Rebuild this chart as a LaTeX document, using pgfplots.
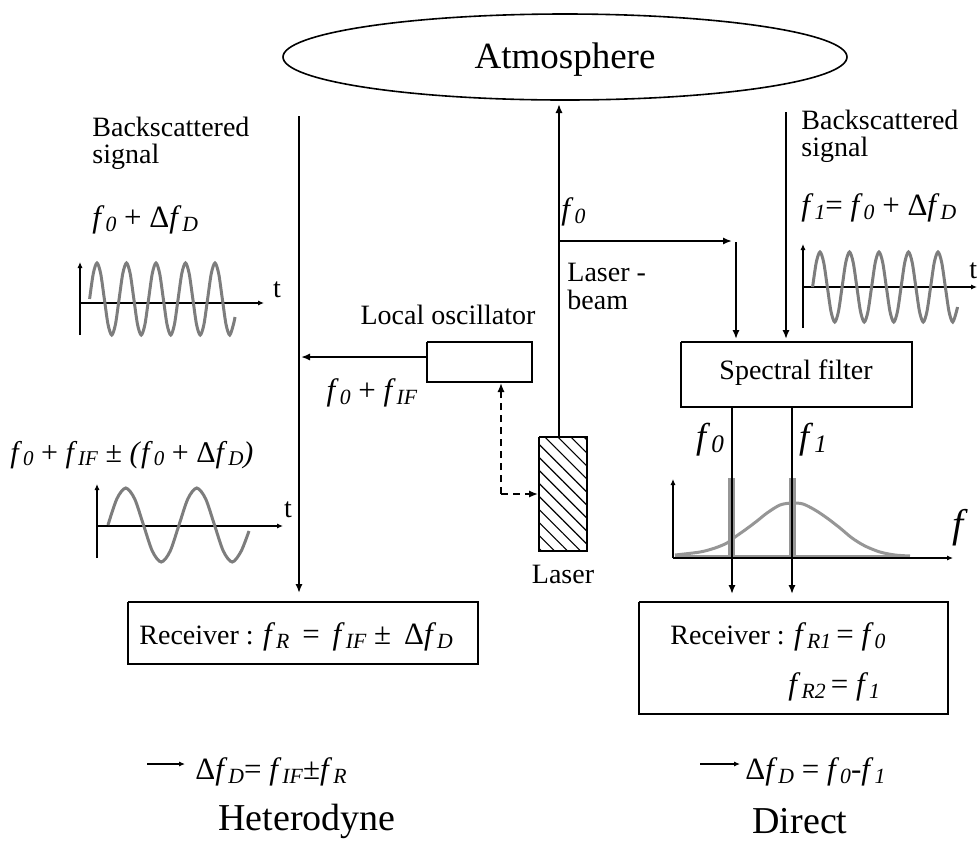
\documentclass[border=0pt]{standalone}
\usepackage{pgfplots}
\pgfplotsset{compat=1.18}
\usepackage{fontspec}
\setmainfont{Liberation Serif}
\usetikzlibrary{arrows.meta,patterns.meta}
\newcommand{\fsub}[1]{\textit{f}\kern0.03em\raisebox{-0.25ex}{\scalebox{0.7}{\textit{#1}}}}
\newcommand{\fm}{\fontsize{15.5}{18}\selectfont}
\definecolor{wave}{RGB}{125,125,125}
\definecolor{spec}{RGB}{150,150,150}
\begin{document}
\begin{tikzpicture}[font=\fontsize{14}{17}\selectfont,
  arr/.style={-{Latex[length=4.5pt,width=3.6pt]}},
  sarr/.style={-{Latex[length=3pt,width=2.6pt]}}]
\useasboundingbox (0,0) rectangle (490pt,421pt);
\clip (0,0) rectangle (490pt,421pt);
\begin{axis}[at={(0,0)},anchor=south west,width=490pt,height=421pt,scale only axis,
  hide axis,xmin=0,xmax=980,ymin=0,ymax=842,y dir=reverse,clip=false]

% ---------- Atmosphere ----------
\draw[line width=0.8pt] (axis cs:565,57) ellipse [x radius=282, y radius=43];
\node[inner sep=0] at (axis cs:565,60) {\fontsize{18.5}{22}\selectfont Atmosphere};

% ---------- Left: heterodyne ----------
\addplot[black,line width=0.9pt,arr] coordinates {(299,116) (299,593)};
\node[anchor=west,inner sep=0] at (axis cs:92,127) {Backscattered};
\node[anchor=west,inner sep=0] at (axis cs:92,157) {signal};
\node[anchor=west,inner sep=0] at (axis cs:92,220) {\fm\fsub{0} + Δ\fsub{D}};
% wave 1 axes
\addplot[black,line width=0.8pt,sarr] coordinates {(80,335) (80,262)};
\addplot[black,line width=0.8pt,sarr] coordinates {(80,303) (264,303)};
\node[inner sep=0] at (axis cs:277,290) {t};
\addplot[wave,line width=1.5pt,smooth] coordinates {
(89.6,299) (93.29,273.5) (96.98,263) (100.66,273.5) (104.35,299) (108.04,324.5) (111.73,335) (115.41,324.5)
(119.1,299) (122.79,273.5) (126.48,263) (130.16,273.5) (133.85,299) (137.54,324.5) (141.23,335) (144.91,324.5)
(148.6,299) (152.29,273.5) (155.98,263) (159.66,273.5) (163.35,299) (167.04,324.5) (170.73,335) (174.41,324.5)
(178.1,299) (181.79,273.5) (185.48,263) (189.16,273.5) (192.85,299) (196.54,324.5) (200.23,335) (203.91,324.5)
(207.6,299) (211.29,273.5) (214.98,263) (218.66,273.5) (222.35,299) (226.04,324.5) (229.73,335) (233.41,324.5) (235,317)};
% formula 2 and wave 2
\node[anchor=west,inner sep=0] at (axis cs:10,455) {\fontsize{15}{18}\selectfont\fsub{0} + \fsub{IF} ± \textit{(}\fsub{0} + Δ\fsub{D}\textit{)}};
\addplot[black,line width=0.8pt,sarr] coordinates {(97,558) (97,484)};
\addplot[black,line width=0.8pt,sarr] coordinates {(97,526) (283,526)};
\node[inner sep=0] at (axis cs:288,510) {t};
\addplot[wave,line width=1.5pt,smooth] coordinates {
(108,525) (116.875,498.8) (125.75,488) (134.625,498.8) (143.5,525) (152.375,551.2) (161.25,562) (170.125,551.2)
(179,525) (187.875,498.8) (196.75,488) (205.625,498.8) (214.5,525) (223.375,551.2) (232.25,562) (241.125,551.2) (249,531)};
% local oscillator
\node[inner sep=0] at (axis cs:448,315) {Local oscillator};
\addplot[black,line width=0.9pt] coordinates {(427,342) (532,342) (532,382) (427,382) (427,342)};
\addplot[black,line width=0.9pt,arr] coordinates {(427,357) (301,357)};
\node[inner sep=0] at (axis cs:372,393) {\fm\fsub{0} + \fsub{IF}};
\addplot[black,line width=0.8pt,dash pattern=on 3.5pt off 2.5pt,arr] coordinates {(501,494) (501,383)};
\addplot[black,line width=0.8pt,dash pattern=on 3.5pt off 2.5pt,arr] coordinates {(501,494) (538,494)};
% laser
\addplot[black,line width=0.9pt,pattern={Lines[angle=-45,distance=4.6pt,line width=0.55pt]}] coordinates {(539,437) (587,437) (587,551) (539,551) (539,437)};
\node[inner sep=0] at (axis cs:563,574) {Laser};
\addplot[black,line width=0.9pt,arr] coordinates {(559,437) (559,104)};
\node[anchor=west,inner sep=0] at (axis cs:561,212) {\fm\fsub{0}};
\addplot[black,line width=0.9pt,arr] coordinates {(559,241) (732,241)};
\node[anchor=west,inner sep=0] at (axis cs:567,272) {Laser -};
\node[anchor=west,inner sep=0] at (axis cs:567,300) {beam};
% receiver left
\addplot[black,line width=0.9pt] coordinates {(128,602) (478,602) (478,664) (128,664) (128,602)};
\node[anchor=west,inner sep=0] at (axis cs:139,637) {Receiver : {\fontsize{15.5}{18}\selectfont\fsub{R}\ \,=\ \,\fsub{IF} ±\ \,Δ\fsub{D}}};
\addplot[black,line width=0.8pt,sarr] coordinates {(147,764) (185,764)};
\node[anchor=west,inner sep=0] at (axis cs:195,772) {\fm Δ\fsub{D}= \fsub{IF}±\fsub{R}};
\node[inner sep=0] at (axis cs:307,821) {\fontsize{19}{22}\selectfont Heterodyne};

% ---------- Right: direct ----------
\addplot[black,line width=0.9pt,arr] coordinates {(786,112) (786,339)};
\addplot[black,line width=0.9pt,arr] coordinates {(736,242) (736,339)};
\node[anchor=west,inner sep=0] at (axis cs:801,120) {Backscattered};
\node[anchor=west,inner sep=0] at (axis cs:801,150) {signal};
\node[anchor=west,inner sep=0] at (axis cs:801,208) {\fm\fsub{1}= \fsub{0} + Δ\fsub{D}};
\addplot[black,line width=0.8pt,sarr] coordinates {(803,328) (803,244)};
\addplot[black,line width=0.8pt,sarr] coordinates {(803,287) (977,287)};
\node[anchor=west,inner sep=0] at (axis cs:969,271) {t};
\addplot[wave,line width=1.5pt,smooth] coordinates {
(812.6,287) (816.29,262.3) (819.98,252) (823.66,262.3) (827.35,287) (831.04,311.7) (834.73,322) (838.41,311.7)
(842.1,287) (845.79,262.3) (849.48,252) (853.16,262.3) (856.85,287) (860.54,311.7) (864.23,322) (867.91,311.7)
(871.6,287) (875.29,262.3) (878.98,252) (882.66,262.3) (886.35,287) (890.04,311.7) (893.73,322) (897.41,311.7)
(901.1,287) (904.79,262.3) (908.48,252) (912.16,262.3) (915.85,287) (919.54,311.7) (923.23,322) (926.91,311.7)
(930.6,287) (934.29,262.3) (937.98,252) (941.66,262.3) (945.35,287) (949.04,311.7) (952.73,322) (956.41,311.7) (957.5,307)};
% spectral filter
\addplot[black,line width=0.9pt] coordinates {(681,342) (912,342) (912,407) (681,407) (681,342)};
\node[inner sep=0] at (axis cs:796,373) {Spectral filter};
% spectrum
\addplot[spec,line width=1.4pt] coordinates {(675,556) (910,556)};
\addplot[spec,line width=1.5pt,smooth] coordinates {(675,555) (700,552) (715,548) (727,543) (735,537) (745,530) (757,521) (767,513) (780,505) (792,503) (803,504) (815,510) (827,518) (840,528) (852,538) (865,546) (880,552) (895,555) (910,556)};
\addplot[spec,line width=3.5pt] coordinates {(731,478) (731,556)};
\addplot[spec,line width=3.5pt] coordinates {(792,478) (792,556)};
\addplot[black,line width=0.8pt,sarr] coordinates {(673,558) (673,479)};
\addplot[black,line width=0.8pt,sarr] coordinates {(673,558) (953,558)};
\node[inner sep=0] at (axis cs:960,528) {\fontsize{20}{22}\selectfont\textit{f}};
\addplot[black,line width=0.9pt,arr] coordinates {(732,407) (732,594)};
\addplot[black,line width=0.9pt,arr] coordinates {(792,407) (792,594)};
\node[inner sep=0] at (axis cs:710,440) {\fontsize{18}{20}\selectfont\fsub{0}};
\node[inner sep=0] at (axis cs:813,440) {\fontsize{18}{20}\selectfont\fsub{1}};
% receiver right
\addplot[black,line width=0.9pt] coordinates {(639,602) (948,602) (948,714) (639,714) (639,602)};
\node[anchor=west,inner sep=0] at (axis cs:670,637) {Receiver : {\fm\fsub{R1}\,=\ \fsub{0}}};
\node[anchor=west,inner sep=0] at (axis cs:788,687) {\fm\fsub{R2}\,=\ \fsub{1}};
\addplot[black,line width=0.8pt,sarr] coordinates {(700,764) (740,764)};
\node[anchor=west,inner sep=0] at (axis cs:745,772) {\fm Δ\fsub{D} = \fsub{0}-\fsub{1}};
\node[inner sep=0] at (axis cs:800,821) {\fontsize{19}{22}\selectfont Direct};
\end{axis}
\end{tikzpicture}
\end{document}
